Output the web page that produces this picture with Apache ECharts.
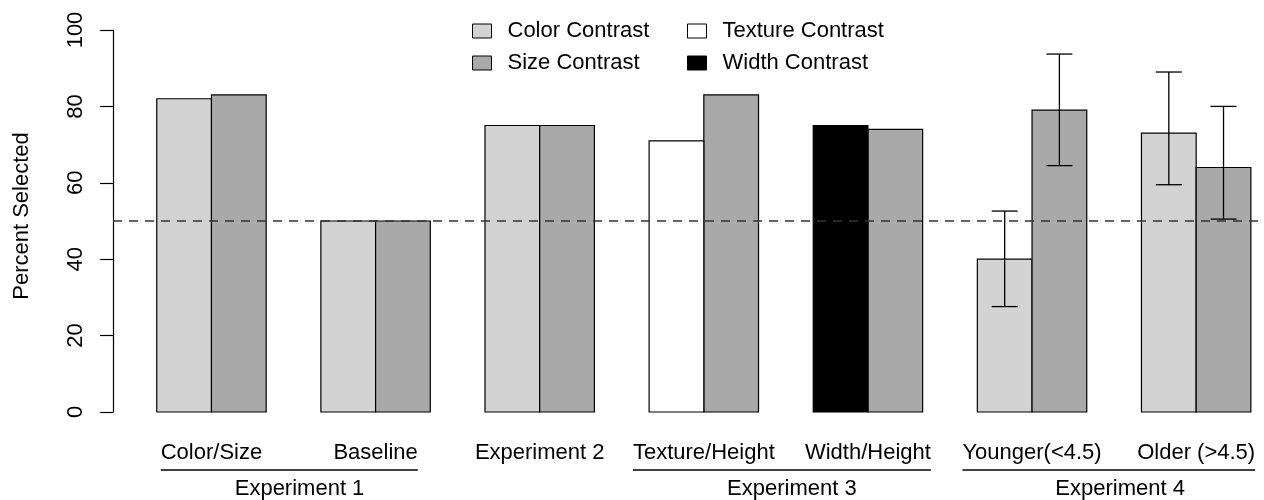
<!DOCTYPE html>
<html>
<head>
<meta charset="utf-8">
<script src="https://cdn.jsdelivr.net/npm/echarts@6/dist/echarts.min.js"></script>
<style>html,body{margin:0;padding:0;background:#fff;}#chart{width:1264px;height:500px;}</style>
</head>
<body>
<div id="chart"></div>
<script>
// ---- data ----
const categories = ['Color/Size', 'Baseline', 'Experiment 2', 'Texture/Height', 'Width/Height', 'Younger(<4.5)', 'Older (>4.5)'];
const firstBarValues = [82, 50, 75, 71, 75, 40, 73];
const firstBarType = ['Color Contrast', 'Color Contrast', 'Color Contrast', 'Texture Contrast', 'Width Contrast', 'Color Contrast', 'Color Contrast'];
const sizeValues = [83, 50, 75, 83, 74, 79, 64];
const errLowFirst  = [null, null, null, null, null, 27.6, 59.5];
const errHighFirst = [null, null, null, null, null, 52.6, 89.0];
const errLowSize   = [null, null, null, null, null, 64.5, 50.5];
const errHighSize  = [null, null, null, null, null, 93.7, 80.0];
const groupNames = ['Experiment 1', 'Experiment 3', 'Experiment 4'];
const groupMembers = [[0, 1], [3, 4], [5, 6]];
const yTicks = [0, 20, 40, 60, 80, 100];
const referenceLine = 50;
const seriesNames = ['Color Contrast', 'Size Contrast', 'Texture Contrast', 'Width Contrast'];

// ---- styles ----
const FONT = '"Liberation Sans", Arial, Helvetica, sans-serif';
const FS = 22;
const colors = {
  'Color Contrast': '#D3D3D3',
  'Size Contrast': '#A9A9A9',
  'Texture Contrast': '#FFFFFF',
  'Width Contrast': '#000000'
};

// layout in axis units: group i occupies [3i+1, 3i+3]
const firstX = i => 3 * i + 1.5;
const secondX = i => 3 * i + 2.5;
const centerX = i => 3 * i + 2;

const measureCtx = document.createElement('canvas').getContext('2d');
measureCtx.font = FS + 'px ' + FONT;
const textW = s => measureCtx.measureText(s).width;

function barData(name) {
  const out = [];
  categories.forEach((c, i) => {
    if (name === 'Size Contrast') out.push([secondX(i), sizeValues[i]]);
    else if (firstBarType[i] === name) out.push([firstX(i), firstBarValues[i]]);
  });
  return out;
}

function makeBarRender(color) {
  return function (params, api) {
    const x = api.value(0), y = api.value(1);
    const p0 = api.coord([x - 0.5, 0]);
    const p1 = api.coord([x + 0.5, y]);
    return {
      type: 'rect',
      shape: { x: p0[0], y: p1[1], width: p1[0] - p0[0], height: p0[1] - p1[1] },
      style: { fill: color, stroke: '#000', lineWidth: 1.2 }
    };
  };
}

const errData = [];
categories.forEach((c, i) => {
  if (errLowFirst[i] != null) errData.push([firstX(i), errLowFirst[i], errHighFirst[i]]);
  if (errLowSize[i] != null) errData.push([secondX(i), errLowSize[i], errHighSize[i]]);
});

const series = seriesNames.map(name => ({
  name: name,
  type: 'custom',
  renderItem: makeBarRender(colors[name]),
  itemStyle: { color: colors[name], borderColor: '#000', borderWidth: 1 },
  data: barData(name),
  encode: { x: 0, y: 1 },
  silent: true,
  z: 2
}));

// reference line
series[1].markLine = {
  silent: true,
  symbol: 'none',
  label: { show: false },
  lineStyle: { type: [9, 7], color: '#333', width: 1.5 },
  data: [{ yAxis: referenceLine }],
  z: 5
};

series.push({
  name: 'errors',
  type: 'custom',
  silent: true,
  z: 4,
  data: errData,
  encode: { x: 0, y: [1, 2] },
  renderItem: function (params, api) {
    const x = api.value(0);
    const lo = api.coord([x, api.value(1)]);
    const hi = api.coord([x, api.value(2)]);
    const cap = 13;
    const st = { stroke: '#000', lineWidth: 1.3 };
    return {
      type: 'group',
      children: [
        { type: 'line', shape: { x1: lo[0], y1: lo[1], x2: hi[0], y2: hi[1] }, style: st },
        { type: 'line', shape: { x1: lo[0] - cap, y1: lo[1], x2: lo[0] + cap, y2: lo[1] }, style: st },
        { type: 'line', shape: { x1: hi[0] - cap, y1: hi[1], x2: hi[0] + cap, y2: hi[1] }, style: st }
      ]
    };
  }
});

// category labels
series.push({
  name: 'catLabels',
  type: 'custom',
  silent: true,
  data: categories.map((c, i) => [centerX(i), 0]),
  encode: { x: 0, y: 1 },
  renderItem: function (params, api) {
    const p = api.coord([api.value(0), 0]);
    return {
      type: 'text',
      x: p[0], y: p[1] + 41,
      style: { text: categories[params.dataIndex], fontSize: FS, fontFamily: FONT, fill: '#000', align: 'center', verticalAlign: 'middle' }
    };
  }
});

// group labels with underline
series.push({
  name: 'groupLabels',
  type: 'custom',
  silent: true,
  data: groupMembers.map(m => [centerX(m[0]), centerX(m[1])]),
  encode: { x: [0, 1] },
  renderItem: function (params, api) {
    const m = groupMembers[params.dataIndex];
    const a = api.coord([api.value(0), 0]);
    const b = api.coord([api.value(1), 0]);
    const left = a[0] - textW(categories[m[0]]) / 2;
    const right = b[0] + textW(categories[m[1]]) / 2;
    return {
      type: 'group',
      children: [
        { type: 'line', shape: { x1: left, y1: a[1] + 58, x2: right, y2: a[1] + 58 }, style: { stroke: '#000', lineWidth: 1.6 } },
        { type: 'text', x: (a[0] + b[0]) / 2 + 6, y: a[1] + 77,
          style: { text: groupNames[params.dataIndex], fontSize: FS, fontFamily: FONT, fill: '#000', align: 'center', verticalAlign: 'middle' } }
      ]
    };
  }
});

function legendItem(name) {
  return { name: name, icon: 'rect', itemStyle: { color: colors[name], borderColor: '#000', borderWidth: 1 } };
}
const legendCommon = {
  orient: 'vertical', top: 14, itemWidth: 19, itemHeight: 14, itemGap: 8,
  selectedMode: false,
  textStyle: { fontSize: FS, fontFamily: FONT, color: '#000', lineHeight: 24, padding: [0, 0, 0, 11] }
};

const option = {
  animation: false,
  backgroundColor: '#fff',
  textStyle: { fontFamily: FONT },
  grid: { left: 113, top: 30, right: 0, height: 382, containLabel: false },
  legend: [
    Object.assign({ left: 467, data: [legendItem('Color Contrast'), legendItem('Size Contrast')] }, legendCommon),
    Object.assign({ left: 682, data: [legendItem('Texture Contrast'), legendItem('Width Contrast')] }, legendCommon)
  ],
  xAxis: { type: 'value', min: 0.2, max: 21.24, show: false },
  yAxis: {
    type: 'value', min: yTicks[0], max: yTicks[yTicks.length - 1], interval: yTicks[1] - yTicks[0],
    axisLine: { show: true, lineStyle: { color: '#000', width: 1.2 } },
    axisTick: { show: true, length: 13, lineStyle: { color: '#000', width: 1.2 } },
    axisLabel: { rotate: 90, margin: 26, fontSize: FS, fontFamily: FONT, color: '#000' },
    splitLine: { show: false },
    name: 'Percent Selected', nameLocation: 'middle', nameGap: 80, nameRotate: 90,
    nameTextStyle: { fontSize: FS, fontFamily: FONT, color: '#000', padding: [0, 0, 0, 10] }
  },
  series: series
};

const chart = echarts.init(document.getElementById('chart'));
chart.setOption(option);
</script>
</body>
</html>
